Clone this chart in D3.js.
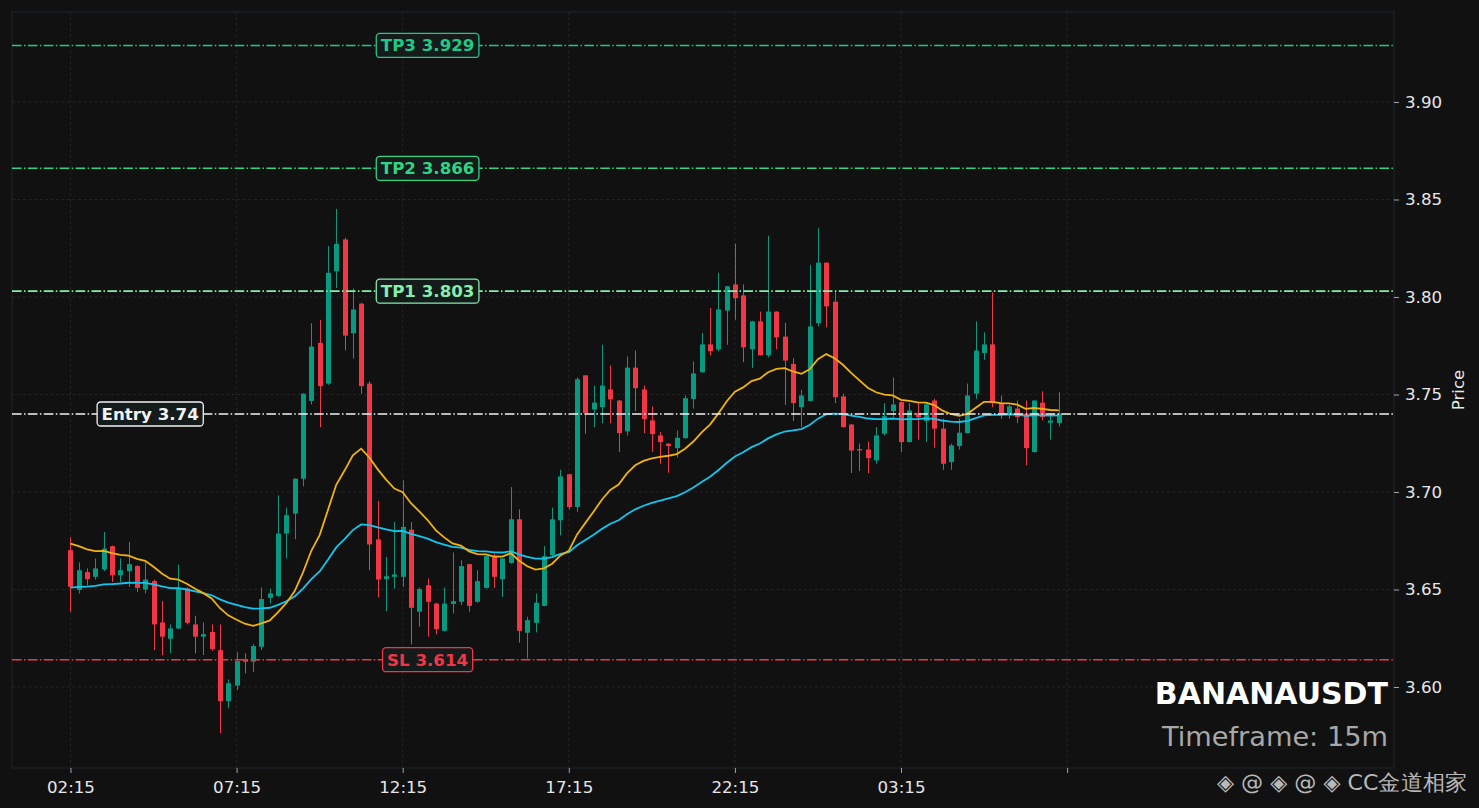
<!DOCTYPE html>
<html>
<head>
<meta charset="utf-8">
<script src="https://cdn.jsdelivr.net/npm/d3@7/dist/d3.min.js"></script>
<style>
html,body{margin:0;padding:0;background:#111111;}
svg{display:block;}
text{font-family:"DejaVu Sans",sans-serif;}
</style>
</head>
<body>
<script>
// ---------------- DATA ----------------
const opens = [3.6702,3.6497,3.6589,3.6565,3.6603,3.6722,3.6573,3.6594,3.6620,3.6500,
3.6543,3.6331,3.6247,3.6300,3.6505,3.6321,3.6258,3.6282,3.6189,3.5928,
3.6007,3.6142,3.6130,3.6206,3.6457,3.6467,3.6787,3.6889,3.7068,3.7467,
3.7765,3.7556,3.8132,3.8295,3.7814,3.7966,3.7556,3.6757,3.6554,3.6565,
3.6565,3.6807,3.6386,3.6522,3.6428,3.6288,3.6426,3.6437,3.6630,3.6437,
3.6508,3.6671,3.6553,3.6636,3.6860,3.6278,3.6329,3.6416,3.6676,3.6855,
3.7091,3.6923,3.7598,3.7423,3.7435,3.7526,3.7469,3.7311,3.7638,3.7526,
3.7367,3.7290,3.7248,3.7225,3.7276,3.7477,3.7614,3.7757,3.7731,3.7930,
3.8064,3.8008,3.7732,3.7875,3.7701,3.7925,3.7797,3.7657,3.7435,3.7467,
3.7866,3.8176,3.7976,3.7490,3.7346,3.7220,3.7218,3.7162,3.7299,3.7415,
3.7461,3.7256,3.7406,3.7364,3.7469,3.7325,3.7153,3.7236,3.7302,3.7504,
3.7713,3.7757,3.7456,3.7401,3.7428,3.7401,3.7205,3.7458,3.7355,3.7353];
const highs = [3.6767,3.6639,3.6608,3.6659,3.6795,3.6725,3.6659,3.6744,3.6625,3.6641,
3.6551,3.6440,3.6321,3.6628,3.6510,3.6365,3.6331,3.6321,3.6321,3.6039,
3.6178,3.6173,3.6220,3.6510,3.6505,3.6983,3.6920,3.7070,3.7506,3.7866,
3.7883,3.8261,3.8452,3.8304,3.8044,3.7970,3.7568,3.6954,3.6667,3.6846,
3.7060,3.6846,3.6510,3.6556,3.6432,3.6510,3.6690,3.6650,3.6632,3.6599,
3.6673,3.6684,3.6660,3.7025,3.6911,3.6360,3.6480,3.6722,3.6920,3.7114,
3.7093,3.7587,3.7600,3.7546,3.7755,3.7649,3.7472,3.7695,3.7725,3.7546,
3.7439,3.7307,3.7250,3.7315,3.7495,3.7670,3.7816,3.7944,3.8124,3.8057,
3.8273,3.8064,3.7878,3.7925,3.8314,3.7927,3.7867,3.7686,3.7524,3.8165,
3.8353,3.8178,3.8027,3.7504,3.7348,3.7248,3.7259,3.7333,3.7456,3.7587,
3.7463,3.7456,3.7461,3.7461,3.7478,3.7376,3.7248,3.7376,3.7556,3.7875,
3.7819,3.8024,3.7495,3.7447,3.7469,3.7469,3.7470,3.7516,3.7401,3.7512];
const lows = [3.6386,3.6480,3.6522,3.6551,3.6595,3.6539,3.6539,3.6514,3.6488,3.6480,
3.6189,3.6164,3.6173,3.6298,3.6321,3.6173,3.6164,3.6186,3.5763,3.5891,
3.5985,3.6070,3.6078,3.6189,3.6428,3.6462,3.6659,3.6758,3.7029,3.7449,
3.7333,3.7550,3.8046,3.7726,3.7684,3.7504,3.6599,3.6460,3.6389,3.6505,
3.6514,3.6219,3.6309,3.6258,3.6270,3.6285,3.6377,3.6420,3.6386,3.6432,
3.6505,3.6508,3.6462,3.6632,3.6227,3.6147,3.6280,3.6414,3.6673,3.6778,
3.6909,3.6898,3.7299,3.7333,3.7353,3.7353,3.7205,3.7289,3.7415,3.7302,
3.7205,3.7145,3.7099,3.7176,3.7274,3.7428,3.7612,3.7700,3.7722,3.7755,
3.7883,3.7666,3.7637,3.7700,3.7691,3.7732,3.7447,3.7364,3.7333,3.7465,
3.7849,3.7845,3.7456,3.7330,3.7097,3.7107,3.7097,3.7145,3.7290,3.7384,
3.7205,3.7254,3.7268,3.7256,3.7227,3.7114,3.7114,3.7218,3.7300,3.7478,
3.7678,3.7435,3.7376,3.7376,3.7353,3.7137,3.7203,3.7367,3.7268,3.7336];
const closes = [3.6514,3.6599,3.6553,3.6608,3.6710,3.6573,3.6599,3.6630,3.6508,3.6551,
3.6321,3.6258,3.6300,3.6505,3.6329,3.6258,3.6271,3.6195,3.5928,3.6019,
3.6133,3.6130,3.6210,3.6451,3.6480,3.6787,3.6881,3.7068,3.7504,3.7746,
3.7543,3.8124,3.8273,3.7802,3.7936,3.7543,3.6731,3.6551,3.6568,3.6577,
3.6821,3.6406,3.6502,3.6437,3.6297,3.6428,3.6440,3.6620,3.6416,3.6543,
3.6671,3.6565,3.6659,3.6860,3.6288,3.6343,3.6432,3.6671,3.6860,3.7080,
3.6923,3.7578,3.7405,3.7458,3.7546,3.7475,3.7302,3.7638,3.7532,3.7374,
3.7297,3.7256,3.7236,3.7278,3.7481,3.7608,3.7757,3.7722,3.7936,3.8055,
3.7994,3.7742,3.7875,3.7701,3.7925,3.7793,3.7674,3.7456,3.7495,3.7849,
3.8176,3.7952,3.7486,3.7333,3.7213,3.7213,3.7174,3.7290,3.7389,3.7449,
3.7256,3.7418,3.7384,3.7449,3.7325,3.7145,3.7239,3.7304,3.7495,3.7725,
3.7757,3.7456,3.7401,3.7439,3.7384,3.7225,3.7469,3.7384,3.7367,3.7401];

// EMA starting values (at the first candle)
const ema20Start = 3.6735;
const ema50Start = 3.6510;

const xTickIndex = [0, 20, 40, 60, 80, 100, 120];
const xTickLabels = ["02:15", "07:15", "12:15", "17:15", "22:15", "03:15", ""];
const yTicks = [3.60, 3.65, 3.70, 3.75, 3.80, 3.85, 3.90];

const levelNames = ["TP3", "TP2", "TP1", "Entry", "SL"];
const levelValues = [3.929, 3.866, 3.803, 3.74, 3.614];
const levelLabels = ["TP3 3.929", "TP2 3.866", "TP1 3.803", "Entry 3.74", "SL 3.614"];
const levelColors = ["#1fc98a", "#2fd484", "#84eeac", "#f2f2f2", "#f23645"];
const levelLabelAt = [43, 43, 43, 9.6, 43];

const symbol = "BANANAUSDT";
const timeframe = "Timeframe: 15m";
const watermark = "◈ @ ◈ @ ◈ CC金道相家";

// ---------------- CHART ----------------
const W = 1479, H = 808;
const L = 12, R = 1394, T = 12, B = 768;
const upColor = "#089981", downColor = "#f23645";

function ema(values, period, start) {
  const a = 2 / (period + 1);
  const out = [start];
  for (let i = 1; i < values.length; i++) out.push(out[i - 1] + a * (values[i] - out[i - 1]));
  return out;
}
const ema20 = ema(closes, 20, ema20Start);
const ema50 = ema(closes, 50, ema50Start);

const svg = d3.select("body").append("svg").attr("width", W).attr("height", H);
svg.append("rect").attr("width", W).attr("height", H).attr("fill", "#111111");

const x = d3.scaleLinear().domain([-7.04, 159.36]).range([L, R]);
const y = d3.scaleLinear().domain([3.55846, 3.94615]).range([B, T]);

// grid
const grid = svg.append("g");
grid.selectAll(".gx").data(xTickIndex).join("line")
  .attr("x1", d => x(d)).attr("x2", d => x(d)).attr("y1", T).attr("y2", B)
  .attr("stroke", "#2a2a2a").attr("stroke-width", 0.8).attr("stroke-dasharray", "3,2.5");
grid.selectAll(".gy").data(yTicks).join("line")
  .attr("x1", L).attr("x2", R).attr("y1", d => y(d)).attr("y2", d => y(d))
  .attr("stroke", "#2a2a2a").attr("stroke-width", 0.8).attr("stroke-dasharray", "3,2.5");

// frame
svg.append("rect").attr("x", L).attr("y", T).attr("width", R - L).attr("height", B - T)
  .attr("fill", "none").attr("stroke", "#1f272c").attr("stroke-width", 1);

// candles
const idx = d3.range(closes.length);
const cg = svg.append("g");
const bw = 5;
cg.selectAll("line.wick").data(idx).join("line")
  .attr("x1", i => Math.round(x(i)) + 0.5).attr("x2", i => Math.round(x(i)) + 0.5)
  .attr("y1", i => y(highs[i])).attr("y2", i => y(lows[i]))
  .attr("stroke", i => closes[i] >= opens[i] ? upColor : downColor).attr("stroke-width", 1);
cg.selectAll("rect.body").data(idx).join("rect")
  .attr("x", i => Math.round(x(i)) + 0.5 - bw / 2)
  .attr("y", i => y(Math.max(opens[i], closes[i])))
  .attr("width", bw)
  .attr("height", i => Math.max(1, Math.abs(y(opens[i]) - y(closes[i]))))
  .attr("fill", i => closes[i] >= opens[i] ? upColor : downColor);

// EMAs
const line = d3.line().x((d, i) => x(i)).y(d => y(d));
svg.append("path").datum(ema50).attr("d", line).attr("fill", "none")
  .attr("stroke", "#12c6ee").attr("stroke-width", 1.8);
svg.append("path").datum(ema20).attr("d", line).attr("fill", "none")
  .attr("stroke", "#f0b20e").attr("stroke-width", 1.8);

// level lines
const lv = svg.append("g");
levelValues.forEach((v, k) => {
  lv.append("line").attr("x1", L).attr("x2", R).attr("y1", y(v)).attr("y2", y(v))
    .attr("stroke", levelColors[k]).attr("stroke-width", 1.6)
    .attr("stroke-dasharray", "9.6,2.4,1.5,2.4");
});
levelValues.forEach((v, k) => {
  const g = lv.append("g").attr("transform", `translate(${x(levelLabelAt[k])},${y(v)})`);
  const t = g.append("text").text(levelLabels[k])
    .attr("text-anchor", "middle").attr("dy", "0.36em")
    .attr("font-size", "16.67px").attr("font-weight", "bold")
    .attr("fill", levelColors[k]);
  const bb = t.node().getBBox();
  g.insert("rect", "text")
    .attr("x", bb.x - 4.5).attr("y", -12).attr("width", bb.width + 9).attr("height", 24)
    .attr("rx", 3.5).attr("fill", "#151b1a").attr("stroke", levelColors[k]).attr("stroke-width", 1.3);
});

// axes
const yAxis = svg.append("g").attr("transform", `translate(${R},0)`)
  .call(d3.axisRight(y).tickValues(yTicks).tickFormat(d3.format(".2f")).tickSize(5).tickPadding(6));
const xAxis = svg.append("g").attr("transform", `translate(0,${B})`)
  .call(d3.axisBottom(x).tickValues(xTickIndex).tickFormat((d, i) => xTickLabels[i]).tickSize(5).tickPadding(8));
[yAxis, xAxis].forEach(a => {
  a.select(".domain").remove();
  a.selectAll("line").attr("stroke", "#cccccc").attr("stroke-width", 0.8);
  a.selectAll("text").attr("fill", "#e6e6e6").attr("font-size", "16.67px")
    .attr("font-family", "DejaVu Sans");
});

svg.append("text").text("Price")
  .attr("transform", `translate(1464,${(T + B) / 2}) rotate(-90)`)
  .attr("text-anchor", "middle").attr("font-size", "16.67px").attr("fill", "#e6e6e6");

// title texts
svg.append("text").text(symbol).attr("x", 1388).attr("y", 704)
  .attr("text-anchor", "end").attr("font-size", "30px").attr("font-weight", "bold").attr("fill", "#ffffff");
svg.append("text").text(timeframe).attr("x", 1388).attr("y", 746)
  .attr("text-anchor", "end").attr("font-size", "27.2px").attr("fill", "#a8a8a8");

// watermark
svg.append("text").text(watermark).attr("x", 1217).attr("y", 790)
  .attr("font-size", "22px").attr("fill", "#d6d6d6").attr("opacity", 0.85)
  .attr("textLength", 250).attr("lengthAdjust", "spacingAndGlyphs");
</script>
</body>
</html>
